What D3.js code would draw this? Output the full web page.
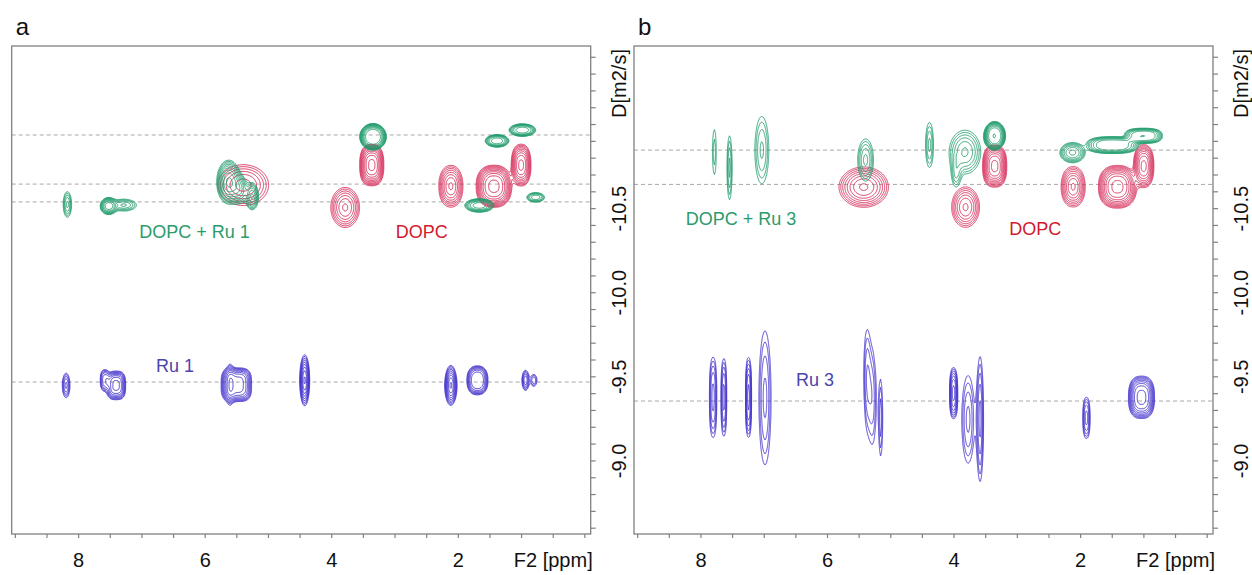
<!DOCTYPE html>
<html>
<head>
<meta charset="utf-8">
<script src="https://cdn.jsdelivr.net/npm/d3@7"></script>
<style>
    body { margin: 0; background: #fff; }
    svg text { font-family: Arial, 'Liberation Sans', sans-serif; }
</style>
</head>
<body>
<svg id="chart" width="1252" height="575"></svg>
<script>
'use strict';

// peak tables: [F2 ppm, log D, half width (ppm), half height (log D), contour depth, lineshape, contour squareness]
var dopcPeaksA = [
    [5.39, -10.637, 0.40, 0.121, 5.5, 2, 2],
    [3.78, -10.504, 0.227, 0.119, 6.2, 2, 2],
    [3.36, -10.756, 0.19, 0.123, 9.3, 2.6, 2.6],
    [2.11, -10.63, 0.19, 0.124, 7.2, 2, 2.2],
    [1.43, -10.63, 0.28, 0.125, 9.3, 2.8, 2.4],
    [1.00, -10.756, 0.155, 0.124, 8.3, 2.4, 2.4]
];
var ru1MixPeaks = [
    [8.17, -10.522, 0.066, 0.076, 4.3, 2, 2],
    [7.52, -10.512, 0.13, 0.05, 7.5, 2.6, 2],
    [7.28, -10.518, 0.2, 0.035, 4.2, 2, 2],
    [5.62, -10.655, 0.19, 0.13, 8.2, 2.2, 2],
    [5.25, -10.57, 0.10, 0.08, 6.2, 2, 2],
    [5.45, -10.61, 0.12, 0.08, 5, 2, 2],
    [3.34, -10.924, 0.21, 0.079, 10, 4, 2],
    [1.38, -10.90, 0.187, 0.037, 6.5, 3.5, 2],
    [0.98, -10.964, 0.21, 0.037, 6.5, 3.5, 2],
    [1.66, -10.516, 0.23, 0.04, 6.5, 3, 2],
    [0.77, -10.564, 0.14, 0.028, 4.5, 3, 2]
];
var ru1Peaks = [
    [8.19, -9.446, 0.06, 0.073, 4.3, 2, 2],
    [7.58, -9.476, 0.07, 0.063, 4.5, 3, 2.5],
    [7.40, -9.446, 0.15, 0.085, 7.3, 3, 3],
    [5.50, -9.45, 0.24, 0.10, 7.5, 3.5, 3.5],
    [5.60, -9.45, 0.05, 0.113, 3, 2, 2],
    [4.42, -9.476, 0.078, 0.152, 8.2, 2, 2],
    [2.11, -9.446, 0.097, 0.119, 8.2, 2, 2],
    [1.69, -9.476, 0.166, 0.086, 7, 3.5, 2.4],
    [0.93, -9.476, 0.056, 0.06, 5, 2, 2],
    [0.80, -9.476, 0.05, 0.035, 3, 2, 2]
];
var dopcPeaksB = [
    [5.42, -10.625, 0.39, 0.12, 7.2, 2, 2],
    [3.81, -10.506, 0.22, 0.12, 6.2, 2, 2],
    [3.35, -10.75, 0.19, 0.125, 9.3, 2.6, 2.6],
    [2.11, -10.627, 0.19, 0.12, 7.2, 2, 2.2],
    [1.41, -10.627, 0.30, 0.127, 9.3, 2.8, 2.4],
    [0.995, -10.75, 0.16, 0.127, 8.3, 2.4, 2.4]
];
var ru3MixPeaks = [
    [7.78, -10.833, 0.03, 0.134, 1.5, 2, 2],
    [7.54, -10.74, 0.04, 0.19, 3.3, 2, 2],
    [7.03, -10.845, 0.11, 0.20, 3.2, 2, 2],
    [5.39, -10.786, 0.125, 0.125, 4.3, 2, 2],
    [4.38, -10.875, 0.063, 0.134, 3.3, 2, 2],
    [3.82, -10.833, 0.25, 0.13, 5.2, 2, 2],
    [3.96, -10.70, 0.06, 0.07, 2.5, 2, 2],
    [3.35, -10.93, 0.17, 0.085, 10, 4, 2],
    [2.12, -10.83, 0.20, 0.06, 6.2, 2.5, 2],
    [1.49, -10.875, 0.41, 0.05, 7, 4, 2.6],
    [1.00, -10.93, 0.30, 0.045, 7, 4, 2.6]
];
var ru3Peaks = [
    [7.80, -9.375, 0.058, 0.238, 4.3, 2.5, 2.5],
    [7.63, -9.375, 0.045, 0.23, 4.3, 2.5, 2.5],
    [7.24, -9.375, 0.048, 0.238, 5.3, 2.5, 2.5],
    [6.98, -9.372, 0.096, 0.398, 3.3, 2, 2],
    [5.37, -9.50, 0.05, 0.26, 2.5, 2, 2],
    [5.28, -9.366, 0.06, 0.26, 2.5, 2, 2],
    [5.15, -9.25, 0.03, 0.22, 2.5, 2, 2],
    [4.00, -9.40, 0.063, 0.152, 6.3, 2.5, 2.5],
    [3.77, -9.244, 0.10, 0.26, 3.3, 2, 2],
    [3.58, -9.246, 0.054, 0.37, 4.3, 2, 2],
    [1.90, -9.253, 0.057, 0.122, 4.3, 2.5, 2.5],
    [1.03, -9.375, 0.206, 0.126, 8.3, 3, 2.6]
];

// dashed reference lines (log D)
var refLinesA = [-10.935, -10.643, -10.537, -9.466];
var refLinesB = [-10.845, -10.641, -9.353];

// text labels: [text, ppm, log D, series]
var labelsA = [['DOPC + Ru 1', 6.16, -10.357, 'mix'], ['DOPC', 2.57, -10.357, 'dopc'], ['Ru 1', 6.47, -9.565, 'ru']];
var labelsB = [['DOPC + Ru 3', 7.36, -10.435, 'mix'], ['DOPC', 2.71, -10.375, 'dopc'], ['Ru 3', 6.19, -9.482, 'ru']];

var ppmDomain = [9.05, -0.1];
var logDDomain = [-11.464, -8.5625];
var xTicks = d3.range(0, 19).map(function(k) { return 9 - k * 0.5; });
var xTickLabels = [8, 6, 4, 2];
var yTicks = d3.range(0, 29).map(function(k) { return +(-11.4 + k * 0.1).toFixed(1); });
var yTickLabels = [-10.5, -10.0, -9.5, -9.0];

var lineColors = { dopc: '#d62a58', mix: '#1f9c6b', ru: '#4130cc' };
var textColors = { dopc: '#d2192f', mix: '#2c9b6c', ru: '#4a45ad' };

var levelRatio = 1.3;
var contourLevels = d3.range(0, 16).map(function(k) { return Math.pow(levelRatio, k); });

var plotW = 579, plotH = 488, plotTop = 46;

var panels = [
    { letter: 'a', left: 11.7, dopc: dopcPeaksA, mix: ru1MixPeaks, ru: ru1Peaks, refs: refLinesA, labels: labelsA },
    { letter: 'b', left: 634, dopc: dopcPeaksB, mix: ru3MixPeaks, ru: ru3Peaks, refs: refLinesB, labels: labelsB }
];

function BuildField(peaks, xScale, yScale) {
    var values = new Float64Array(plotW * plotH);
    var lnR = Math.log(levelRatio);
    peaks.forEach(function(p) {
        var amp = Math.exp(p[4] * lnR);
        var q = p[5], e = p[6];
        var rho0 = Math.pow(2 * p[4] * lnR, 1 / q);
        var cx = xScale(p[0]), cy = yScale(p[1]);
        var sx = Math.abs(xScale(p[0] - p[2]) - cx) / rho0;
        var sy = Math.abs(yScale(p[1] + p[3]) - cy) / rho0;
        var rx = sx * rho0 * 1.8, ry = sy * rho0 * 1.8;
        var i0 = Math.max(0, Math.floor(cx - rx)), i1 = Math.min(plotW - 1, Math.ceil(cx + rx));
        var j0 = Math.max(0, Math.floor(cy - ry)), j1 = Math.min(plotH - 1, Math.ceil(cy + ry));
        for (var j = j0; j <= j1; j++) {
            var dy = Math.pow(Math.abs((j + 0.5 - cy) / sy), e);
            for (var i = i0; i <= i1; i++) {
                var dx = Math.pow(Math.abs((i + 0.5 - cx) / sx), e);
                values[j * plotW + i] += amp * Math.exp(-0.5 * Math.pow(dx + dy, q / e));
            }
        }
    });
    return values;
}

function DrawPanel(svg, panel) {
    var x = d3.scaleLinear().domain(ppmDomain).range([0, plotW]);
    var y = d3.scaleLinear().domain(logDDomain).range([0, plotH]);

    svg.append('text')
        .attr('x', panel.left + 4)
        .attr('y', 35)
        .style('font-size', '24px')
        .style('fill', '#111')
        .text(panel.letter);

    var g = svg.append('g').attr('transform', 'translate(' + panel.left + ',' + plotTop + ')');

    var clipId = 'clip-' + panel.letter;
    g.append('clipPath').attr('id', clipId)
        .append('rect').attr('width', plotW).attr('height', plotH);

    var inner = g.append('g').attr('clip-path', 'url(#' + clipId + ')');

    inner.selectAll('.ref-line').data(panel.refs).enter()
        .append('line')
            .classed('ref-line', true)
            .attr('x1', 0).attr('x2', plotW)
            .attr('y1', function(d) { return y(d); })
            .attr('y2', function(d) { return y(d); })
            .style('stroke', '#a8a8a8')
            .style('stroke-width', 1)
            .style('stroke-dasharray', '4,3');

    var path = d3.geoPath();
    ['dopc', 'mix', 'ru'].forEach(function(key) {
        var field = BuildField(panel[key], x, y);
        var contours = d3.contours().size([plotW, plotH]).thresholds(contourLevels)(field);
        inner.append('g').selectAll('path').data(contours).enter()
            .append('path')
                .attr('d', path)
                .style('fill', 'none')
                .style('stroke', lineColors[key])
                .style('stroke-width', 0.9);
    });

    inner.selectAll('.series-label').data(panel.labels).enter()
        .append('text')
            .classed('series-label', true)
            .attr('x', function(d) { return x(d[1]); })
            .attr('y', function(d) { return y(d[2]); })
            .attr('dy', '0.35em')
            .attr('text-anchor', 'middle')
            .style('font-size', '18px')
            .style('fill', function(d) { return textColors[d[3]]; })
            .text(function(d) { return d[0]; });

    g.append('rect')
        .attr('width', plotW).attr('height', plotH)
        .style('fill', 'none')
        .style('stroke', '#808080')
        .style('stroke-width', 1.3);

    var xAxis = d3.axisBottom(x)
        .tickValues(xTicks)
        .tickSize(4)
        .tickPadding(15)
        .tickFormat(function(d) { return xTickLabels.indexOf(d) >= 0 ? d : ''; });
    var gx = g.append('g').attr('transform', 'translate(0,' + plotH + ')').call(xAxis);
    gx.select('.domain').remove();
    gx.selectAll('line').style('stroke', '#808080').style('stroke-width', 1.2);
    gx.selectAll('text').style('font-size', '20px').style('fill', '#111');
    gx.append('text')
        .attr('x', plotW + 2)
        .attr('y', 33)
        .attr('text-anchor', 'end')
        .style('font-size', '20px')
        .style('fill', '#111')
        .text('F2 [ppm]');

    var yAxis = d3.axisRight(y)
        .tickValues(yTicks)
        .tickSize(5)
        .tickFormat(function(d) { return yTickLabels.indexOf(d) >= 0 ? d.toFixed(1) : ''; });
    var gy = g.append('g').attr('transform', 'translate(' + plotW + ',0)').call(yAxis);
    gy.select('.domain').remove();
    gy.selectAll('line').style('stroke', '#808080').style('stroke-width', 1.2);
    gy.selectAll('text')
        .attr('x', null)
        .attr('dy', '0.35em')
        .attr('text-anchor', 'middle')
        .attr('transform', 'translate(28,0) rotate(-90)')
        .style('font-size', '20px')
        .style('fill', '#111');
    gy.append('text')
        .attr('transform', 'translate(28,37.5) rotate(-90)')
        .attr('dy', '0.35em')
        .attr('text-anchor', 'middle')
        .style('font-size', '20px')
        .style('fill', '#111')
        .text('D[m2/s]');
}

var svg = d3.select('#chart');
panels.forEach(function(panel) { DrawPanel(svg, panel); });
</script>
</body>
</html>
